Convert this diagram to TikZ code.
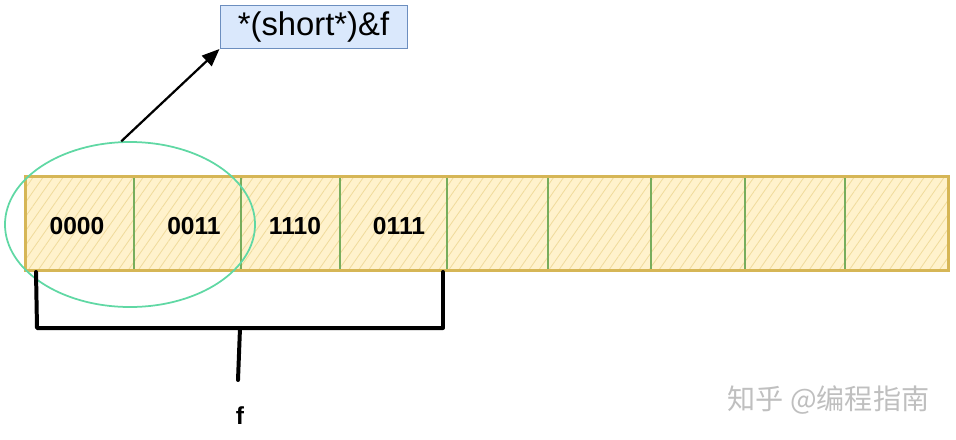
\documentclass[tikz,border=0pt]{standalone}
\usepackage{fontspec}
\setmainfont{Liberation Sans}
\newfontfamily\cjk{Noto Sans CJK SC}
\usetikzlibrary{arrows.meta,shapes.geometric,patterns.meta}
\definecolor{barfill}{HTML}{FFF2CC}
\definecolor{barhatch}{HTML}{F0DB9C}
\definecolor{barborder}{HTML}{D6B656}
\definecolor{celldiv}{HTML}{77AD5C}
\definecolor{ellgreen}{HTML}{60D8A4}
\definecolor{ptrfill}{HTML}{DAE8FC}
\definecolor{ptrborder}{HTML}{6C8EBF}
\tikzset{
  bits/.style={font=\fontsize{21pt}{24pt}\selectfont\bfseries},
  bracket/.style={line width=3.4pt,line join=round,line cap=round},
}
\begin{document}
\begin{tikzpicture}[x=0.03cm,y=-0.03cm]
\useasboundingbox (0,0) rectangle (956,439);

% the bytes
\fill[barfill] (26,177) rectangle (948,270);
\fill[pattern={Lines[angle=55,distance=7pt,line width=0.7pt]},pattern color=barhatch] (26,177) rectangle (948,270);
\foreach \l/\r [count=\i] in {26/134,134/241,241/340,340/447,447/548,548/651,651/745,745/845,845/948}
  \node[draw=celldiv,line width=1.1pt,inner sep=0pt,minimum width=(\r-\l)*0.03cm,minimum height=2.79cm] (c\i) at ({(\l+\r)/2},223.5) {};
\draw[barborder,line width=2.4pt] (c1.north west) rectangle (c9.south east);

\node[bits] at (77,226) {0000};
\node[bits] at (194,226) {0011};
\node[bits] at (295,226) {1110};
\node[bits] at (399,226) {0111};

% the short view
\node[draw=ellgreen,line width=1.5pt,ellipse,minimum width=7.5cm,minimum height=4.95cm] (ell) at (130,224.5) {};
\node[draw=ptrborder,fill=ptrfill,line width=0.8pt,minimum width=5.61cm,minimum height=1.29cm,font=\fontsize{28pt}{30pt}\selectfont] (ptr) at (313.5,27) {*(short*)\&f};
\draw[line width=1.9pt,-{Triangle[length=15pt,width=12pt]}] (ell.96) -- (ptr.south west);

% f spans four bytes
\coordinate (bl) at (37,328);
\coordinate (br) at (443,328);
\coordinate (bm) at (240,328);
\coordinate (bs) at (238,380);
\draw[bracket] (36,272) -- (bl) -- (br) -- (443,272);
\draw[bracket] (bm) -- (bs);
\node[bits] (lblf) at (240,416) {f};

\node[font=\cjk\fontsize{24pt}{26pt}\selectfont,text=black!25] (mark) at (828.5,400) {知乎 @编程指南};
\end{tikzpicture}
\end{document}
